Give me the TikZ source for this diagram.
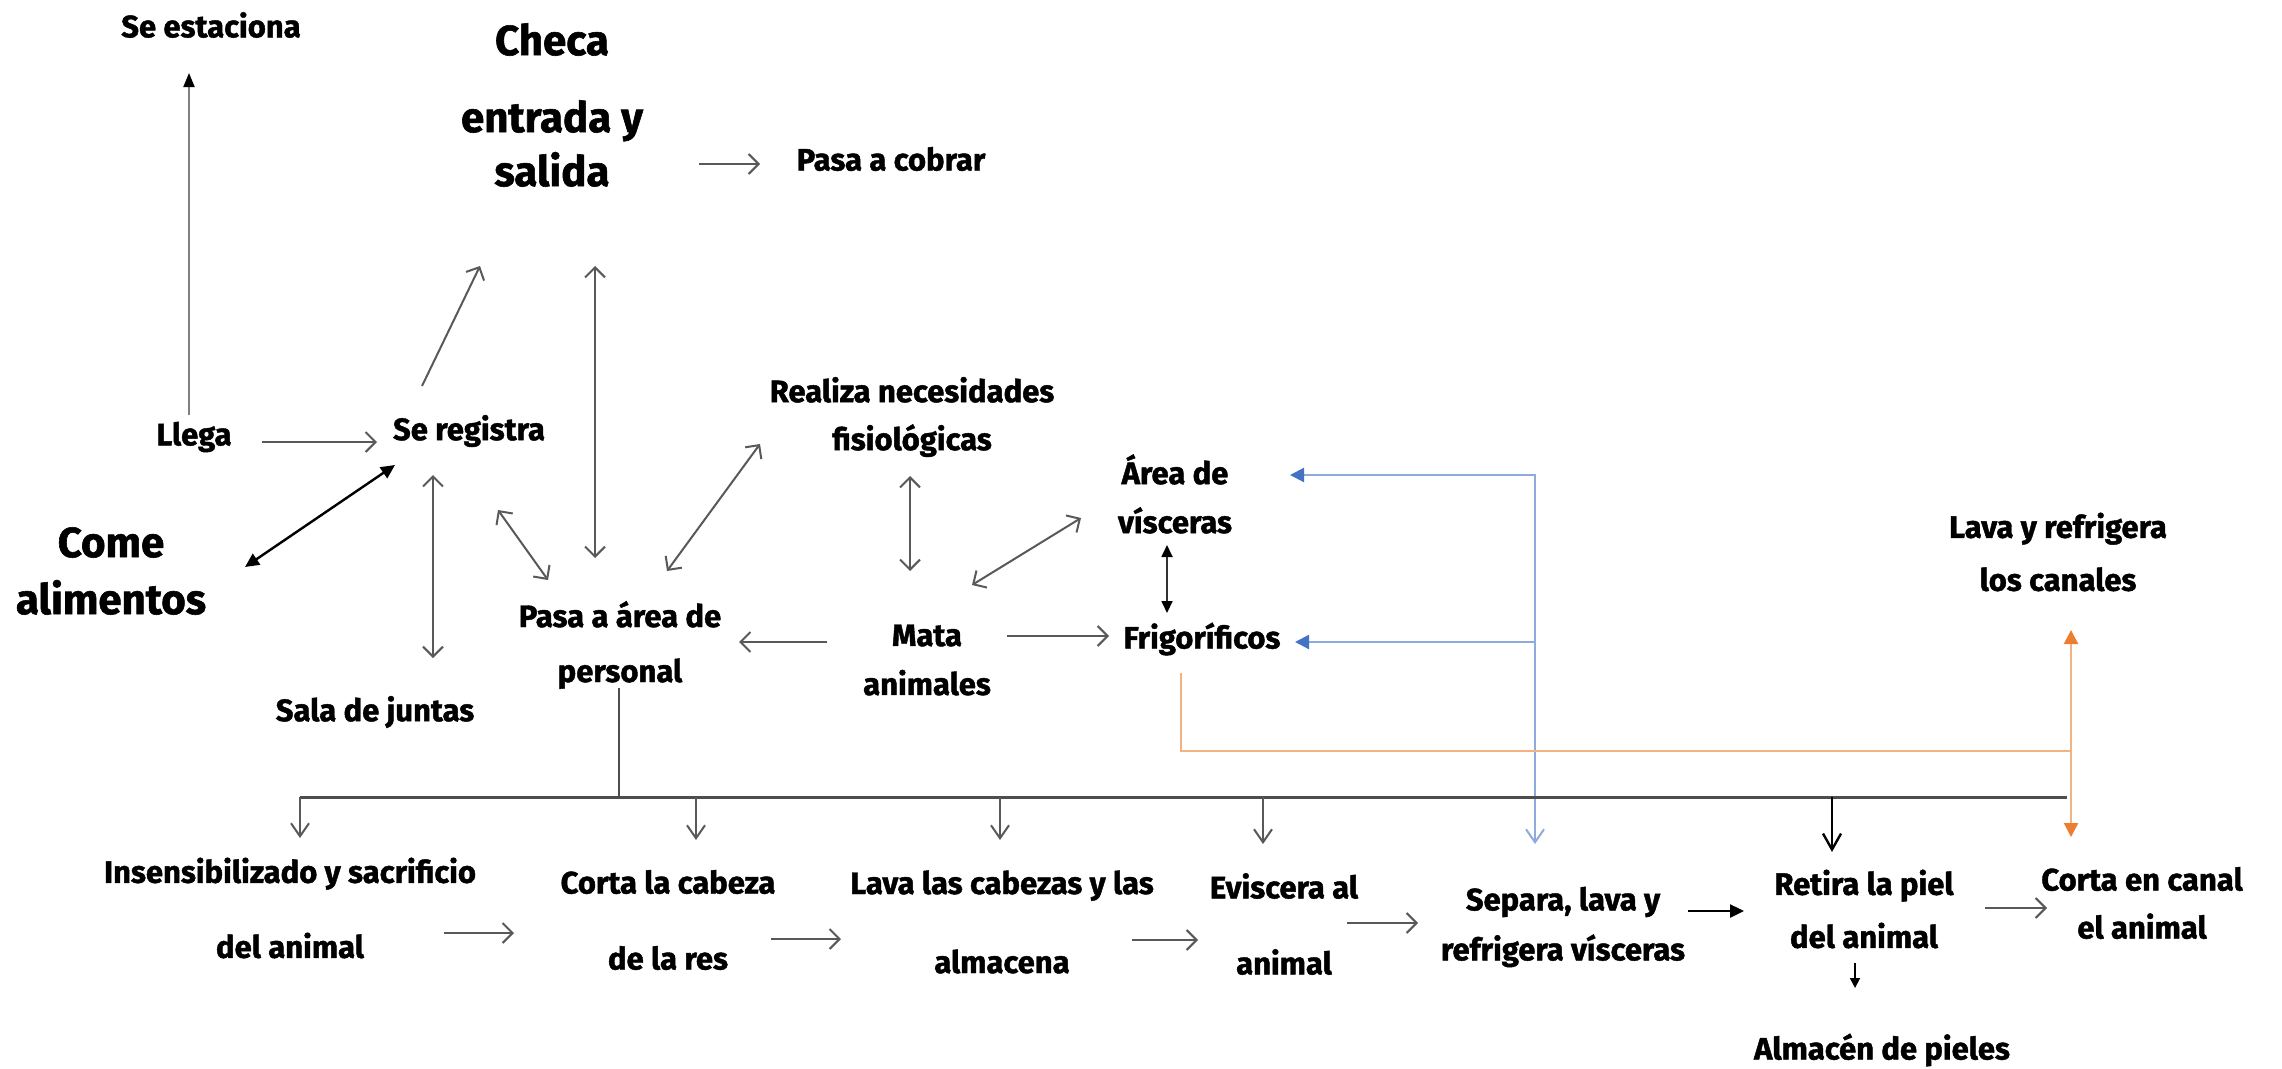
\documentclass[tikz,border=0pt]{standalone}
\usepackage{fontspec}
\setmainfont{Fira Sans}[BoldFeatures={FakeBold=1.4}]
\usetikzlibrary{arrows.meta}

\definecolor{gline}{HTML}{595959}
\definecolor{busgray}{HTML}{4D4D4D}
\definecolor{blueline}{HTML}{8FAADC}
\definecolor{bluehead}{HTML}{4472C4}
\definecolor{orline}{HTML}{F4B183}
\definecolor{orhead}{HTML}{ED7D31}

\newcommand\lblsize[1]{\fontsize{31}{#1}\selectfont\bfseries}
\newcommand\bigsize[1]{\fontsize{42}{#1}\selectfont\bfseries}

\begin{document}
\begin{tikzpicture}[x=1pt,y=-1pt,
  lbl/.style={font={\lblsize{#1}}, align=center, inner sep=0pt},
  lbl/.default=40,
  bigl/.style={font={\bigsize{#1}}, align=center, inner sep=0pt},
  bigl/.default=50,
  barb/.tip={Straight Barb[length=10pt,width=20pt,line width=2pt]},
  ga/.style={draw=gline, line width=2pt, -barb},
  gda/.style={draw=gline, line width=2pt, barb-barb},
  fill1/.style={draw=gray, line width=2pt, -{Triangle[length=14pt,width=11pt,color=black]}},
  blkdbl/.style={draw=black, line width=2.4pt, {Triangle[length=14pt,width=13pt]}-{Triangle[length=14pt,width=13pt]}},
  smdbl/.style={draw=black!80, line width=1.8pt, {Triangle[length=12pt,width=11pt,color=black]}-{Triangle[length=12pt,width=11pt,color=black]}},
  drop/.style={draw=gline, line width=2pt, -{Straight Barb[length=13pt,width=18pt,line width=2pt]}},
  busln/.style={draw=busgray, line width=3pt},
  blueln/.style={draw=blueline, line width=2.2pt},
  orln/.style={draw=orline, line width=2.2pt},
]
\useasboundingbox[fill=white] (0,0) rectangle (2282,1068);

% ---- upper part: arrival and registration ----
\node[lbl] (est) at (211,25) {Se estaciona};
\node[bigl={54}] (checa) at (552,105) {Checa\\[23pt]entrada y\\salida};
\node[lbl] (cobrar) at (891,159) {Pasa a cobrar};
\node[lbl] (llega) at (194,437) {Llega};
\node[lbl] (reg) at (469,431) {Se registra};
\node[bigl={57}] (come) at (111,571) {Come\\alimentos};
\node[lbl] (juntas) at (375,712) {Sala de juntas};
\node[lbl={55}] (pasa) at (620,645) {Pasa a área de\\personal};
\node[lbl={48}] (fisio) at (912,417) {Realiza necesidades\\fisiológicas};
\node[lbl={49}] (mata) at (927,660) {Mata\\animales};
\node[lbl={49}] (visc) at (1175,494) {Área de\\vísceras};
\node[lbl] (frig) at (1202,639) {Frigoríficos};
\node[lbl={53}] (lavacan) at (2058,552) {Lava y refrigera\\los canales};

% ---- lower part: slaughter line ----
\node[lbl={75}] (ins) at (290,908) {Insensibilizado y sacrificio\\del animal};
\node[lbl={76}] (cabeza) at (668,920) {Corta la cabeza\\de la res};
\node[lbl={79}] (lavacab) at (1002,922) {Lava las cabezas y las\\almacena};
\node[lbl={76}] (evis) at (1284,924) {Eviscera al\\animal};
\node[lbl={50}] (separa) at (1563,927) {Separa, lava y\\refrigera vísceras};
\node[lbl={53}] (retira) at (1864,909) {Retira la piel\\del animal};
\node[lbl] (almacen) at (1882,1050) {Almacén de pieles};
\node[lbl={48}] (corta) at (2142,903) {Corta en canal\\el animal};

% junction points
\coordinate (busL) at (300,797);
\coordinate (busR) at (2067,797);
\coordinate (bj1) at (1535,475);
\coordinate (bj2) at (1535,642);
\coordinate (orj) at (2071,751);

% ---- upper connectors ----
\draw[fill1] ([shift={(-5,-22)}]llega.center) -- ([shift={(-22,48)}]est.center);
\draw[ga] ([shift={(147,59)}]checa.center) -- ([shift={(-131,5)}]cobrar.center);
\draw[ga] ([shift={(68,5)}]llega.center) -- ([shift={(-92,11)}]reg.center);
\draw[ga] ([shift={(-47,-45)}]reg.center) -- ([shift={(-72,161)}]checa.center);
\draw[gda] ([shift={(43,161)}]checa.center) -- ([shift={(-25,-87)}]pasa.center);
\draw[blkdbl] ([shift={(134,-4)}]come.center) -- ([shift={(-74,34)}]reg.center);
\draw[gda] ([shift={(-36,44)}]reg.center) -- ([shift={(58,-54)}]juntas.center);
\draw[gda] ([shift={(29,79)}]reg.center) -- ([shift={(-72,-65)}]pasa.center);
\draw[gda] ([shift={(47,-74)}]pasa.center) -- ([shift={(-152,27)}]fisio.center);
\draw[gda] ([shift={(-2,59)}]fisio.center) -- ([shift={(-17,-89)}]mata.center);
\draw[ga] ([shift={(-100,-18)}]mata.center) -- ([shift={(119,-3)}]pasa.center);
\draw[gda] ([shift={(45,-75)}]mata.center) -- ([shift={(-94,24)}]visc.center);
\draw[ga] ([shift={(80,-24)}]mata.center) -- ([shift={(-93,-3)}]frig.center);
\draw[smdbl] ([shift={(-8,51)}]visc.center) -- ([shift={(-35,-26)}]frig.center);

% ---- blue return lines from the viscera station ----
\draw[blueln, {Triangle[length=14pt,width=14pt,color=bluehead]}-{Straight Barb[length=13pt,width=18pt,line width=2pt]}]
  ([shift={(115,-19)}]visc.center) -- (bj1) -- ([shift={(-28,-83)}]separa.center);
\draw[blueln, {Triangle[length=14pt,width=14pt,color=bluehead]}-] ([shift={(93,3)}]frig.center) -- (bj2);

% ---- orange line from the cold rooms ----
\draw[orln] ([shift={(-21,34)}]frig.center) |- (orj);
\draw[orln, {Triangle[length=14pt,width=14pt,color=orhead]}-{Triangle[length=14pt,width=14pt,color=orhead]}]
  ([shift={(13,78)}]lavacan.center) -- ([shift={(-71,-66)}]corta.center);

% ---- distribution bus ----
\draw[draw=busgray, line width=2.2pt] ([shift={(-1,43)}]pasa.center) -- ++(0,109);
\draw[busln] (busL) -- (busR);
\draw[drop] ([shift={(10,-111)}]ins.center) -- ++(0,41);
\draw[drop] ([shift={(28,-123)}]cabeza.center) -- ++(0,43);
\draw[drop] ([shift={(-2,-125)}]lavacab.center) -- ++(0,43);
\draw[drop] ([shift={(-21,-127)}]evis.center) -- ++(0,47);
\draw[draw=black, line width=2.4pt, -{Straight Barb[length=16pt,width=18pt,line width=2.4pt]}]
  ([shift={(-32,-112)}]retira.center) -- ++(0,55);

% ---- lower connectors ----
\draw[ga] ([shift={(154,25)}]ins.center) -- ([shift={(-154,13)}]cabeza.center);
\draw[ga] ([shift={(103,19)}]cabeza.center) -- ([shift={(-161,17)}]lavacab.center);
\draw[ga] ([shift={(130,18)}]lavacab.center) -- ([shift={(-86,16)}]evis.center);
\draw[ga] ([shift={(63,-1)}]evis.center) -- ([shift={(-145,-4)}]separa.center);
\draw[draw=black, line width=2.4pt, -{Triangle[length=14pt,width=13pt]}]
  ([shift={(125,-16)}]separa.center) -- ([shift={(-120,2)}]retira.center);
\draw[ga] ([shift={(121,-1)}]retira.center) -- ([shift={(-95,5)}]corta.center);
\draw[draw=black, line width=1.8pt, -{Triangle[length=10pt,width=10pt]}]
  ([shift={(-9,54)}]retira.center) -- ([shift={(-27,-62)}]almacen.center);
\end{tikzpicture}
\end{document}
